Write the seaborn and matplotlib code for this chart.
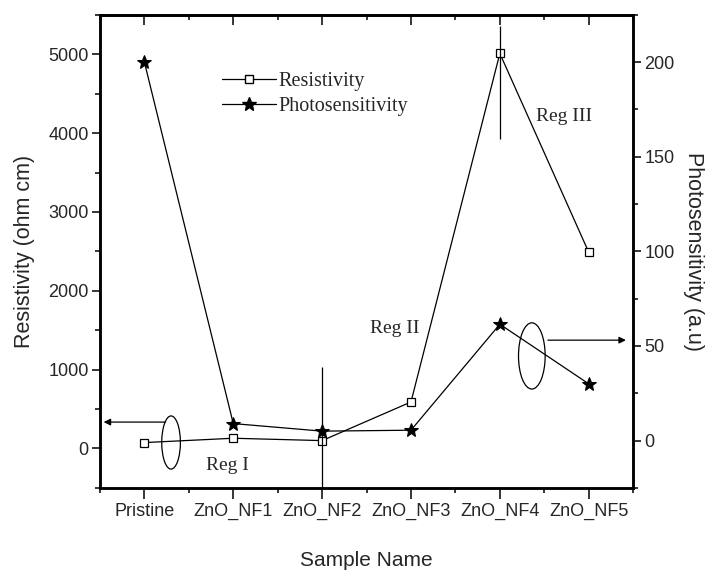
import numpy as np
import pandas as pd
import matplotlib
matplotlib.use("Agg")
import matplotlib.pyplot as plt
from matplotlib.patches import Ellipse
from matplotlib.lines import Line2D
from matplotlib.ticker import MultipleLocator
import seaborn as sns

samples = ["Pristine", "ZnO_NF1", "ZnO_NF2", "ZnO_NF3", "ZnO_NF4", "ZnO_NF5"]
resistivity = [75, 130, 100, 590, 5010, 2490]
res_err_low = [0, 0, 930, 0, 1090, 0]
res_err_high = [0, 0, 930, 0, 345, 0]
photosensitivity = [200, 9, 5, 5.5, 61.5, 30]

sns.set_theme(style="ticks")
plt.rcParams['font.family'] = ['Liberation Sans', 'DejaVu Sans']

pos = np.arange(len(samples))
df = pd.DataFrame({"pos": pos, "Resistivity": resistivity, "Photosensitivity": photosensitivity})

fig = plt.figure(figsize=(7.09, 5.70), dpi=100)
ax = fig.add_axes([0.141, 0.144, 0.752, 0.830])
ax2 = ax.twinx()

sns.lineplot(data=df, x="pos", y="Resistivity", ax=ax, color="black", lw=0.9,
             marker="s", markersize=5.8, markerfacecolor="white", markeredgecolor="black",
             markeredgewidth=0.9, legend=False)
ax.errorbar(pos, resistivity, yerr=[res_err_low, res_err_high], fmt="none",
            ecolor="black", elinewidth=0.9, capsize=0)
sns.lineplot(data=df, x="pos", y="Photosensitivity", ax=ax2, color="black", lw=0.9,
             marker="*", markersize=10.5, markerfacecolor="black", markeredgecolor="black",
             legend=False)

ax.set_xlim(-0.5, 5.5)
ax.set_ylim(-500, 5500)
ax2.set_ylim(-25, 225)

ax.set_xticks(pos)
ax.set_xticklabels(samples, fontsize=13)
ax.xaxis.set_minor_locator(MultipleLocator(0.5))
ax.set_yticks([0, 1000, 2000, 3000, 4000, 5000])
ax.yaxis.set_minor_locator(MultipleLocator(500))
ax2.set_yticks([0, 50, 100, 150, 200])
ax2.yaxis.set_minor_locator(MultipleLocator(25))

ax.tick_params(axis="y", which="major", labelsize=13, length=6, width=1.3, direction="out", pad=2)
ax.tick_params(axis="y", which="minor", length=3.5, width=1.3, direction="out")
ax.tick_params(axis="x", which="major", labelsize=13, length=8, width=1.3, direction="out",
               top=False, pad=3)
ax.tick_params(axis="x", which="minor", length=3.5, width=1.3, direction="out", top=False)
ax2.tick_params(axis="y", which="major", labelsize=13, length=6, width=1.3, direction="out", pad=2)
ax2.tick_params(axis="y", which="minor", length=3.5, width=1.3, direction="out")

# top mirror ticks pointing inward
secx = ax.secondary_xaxis("top")
secx.set_xticks(pos)
secx.set_xticklabels([])
secx.xaxis.set_minor_locator(MultipleLocator(0.5))
secx.tick_params(axis="x", which="major", length=7, width=1.3, direction="in")
secx.tick_params(axis="x", which="minor", length=3.5, width=1.3, direction="in")
secx.spines["top"].set_linewidth(1.8)

for a in (ax, ax2):
    for s in a.spines.values():
        s.set_linewidth(1.8)
        s.set_color("black")

ax.set_xlabel("Sample Name", fontsize=15, labelpad=22)
ax.set_ylabel("Resistivity (ohm cm)", fontsize=15.5, labelpad=10)
ax2.set_ylabel("Photosensitivity (a.u)", fontsize=15.5, rotation=270, labelpad=21)

serif = ['Liberation Serif', 'DejaVu Serif']
handles = [
    Line2D([], [], color="black", lw=0.9, marker="s", markersize=5.8,
           markerfacecolor="white", markeredgecolor="black"),
    Line2D([], [], color="black", lw=0.9, marker="*", markersize=10.5,
           markerfacecolor="black", markeredgecolor="black"),
]
ax2.legend(handles, ["Resistivity", "Photosensitivity"], loc="upper left",
           bbox_to_anchor=(0.213, 0.897), frameon=False, handlelength=2.7,
           handletextpad=0.1, labelspacing=0.3, borderaxespad=0,
           prop={"family": serif, "size": 14.5})

# region annotations
ax.text(0.93, -216, "Reg I", fontsize=14, family=serif, ha="center", va="center")
ax.text(2.82, 1527, "Reg II", fontsize=14, family=serif, ha="center", va="center")
ax.text(4.72, 4211, "Reg III", fontsize=14, family=serif, ha="center", va="center")

ax.add_patch(Ellipse((0.30, 76), 0.21, 674, fill=False, edgecolor="black", lw=0.9))
ax.add_patch(Ellipse((4.36, 1174), 0.30, 840, fill=False, edgecolor="black", lw=0.9))
ax.annotate("", xy=(-0.49, 335), xytext=(0.27, 335),
            arrowprops=dict(arrowstyle="-|>", color="black", lw=0.9, mutation_scale=10))
ax.annotate("", xy=(5.45, 1374), xytext=(4.51, 1374),
            arrowprops=dict(arrowstyle="-|>", color="black", lw=0.9, mutation_scale=10))

fig.savefig("out.png", dpi=100)
